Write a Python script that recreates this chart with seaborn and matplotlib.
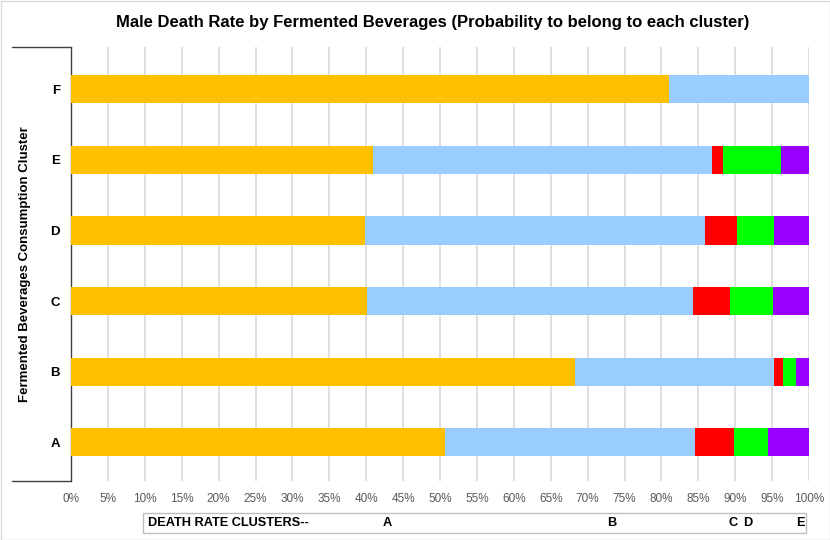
"""Male death rate by fermented beverages - stacked probability bars."""

import matplotlib.pyplot as plt
import matplotlib.ticker as mtick
import pandas as pd
import seaborn as sns
from matplotlib.patches import Rectangle

# consumption clusters, top to bottom
CLUSTERS = ["F", "E", "D", "C", "B", "A"]

# probability (%) to belong to each death rate cluster
RATE_A = [81.0, 40.9, 39.8, 40.1, 68.3, 50.7]
RATE_B = [19.0, 46.0, 46.1, 44.2, 26.9, 33.9]
RATE_C = [0.0, 1.5, 4.4, 5.0, 1.3, 5.2]
RATE_D = [0.0, 7.8, 4.9, 5.8, 1.7, 4.6]
RATE_E = [0.0, 3.8, 4.8, 4.9, 1.8, 5.6]

SERIES = [
    ("A", RATE_A, "#FFC000"),
    ("B", RATE_B, "#99CCFF"),
    ("C", RATE_C, "#FF0000"),
    ("D", RATE_D, "#00FF00"),
    ("E", RATE_E, "#9900FF"),
]

sns.set_theme(style="white")
plt.rcParams.update({
    "font.family": ["Liberation Sans", "DejaVu Sans"],
    "text.color": "black",
    "axes.labelcolor": "black",
    "ytick.color": "black",
})

df = pd.DataFrame({"cluster": CLUSTERS})
cum = [0.0] * len(CLUSTERS)
for name, vals, _ in SERIES:
    cum = [c + v for c, v in zip(cum, vals)]
    df[name] = cum

W, H = 830, 540
fig = plt.figure(figsize=(W / 100, H / 100), dpi=100)
fig.patch.set_facecolor("white")
x0, x1, y0, y1 = 71, 809, 47, 481
ax = fig.add_axes([x0 / W, 1 - y1 / H, (x1 - x0) / W, (y1 - y0) / H])

# draw cumulative totals from the widest down so each segment shows
for name, _, color in reversed(SERIES):
    sns.barplot(data=df, x=name, y="cluster", order=CLUSTERS, color=color,
                width=0.4, saturation=1, ax=ax, zorder=3, linewidth=0)

ax.set_xlim(0, 100)
ax.set_ylim(5.55, -0.6)
ax.set_xticks(range(0, 101, 5))
ax.xaxis.set_major_formatter(mtick.PercentFormatter(decimals=0))
ax.grid(axis="x", color="#D9D9D9", linewidth=1.2, zorder=0)
ax.tick_params(axis="x", length=0, pad=9, labelsize=8.5, labelcolor="#595959")
ax.tick_params(axis="y", length=0, pad=8, labelsize=9.5, labelcolor="black")
for lbl in ax.get_yticklabels():
    lbl.set_fontweight("bold")
ax.set_xlabel("")
ax.set_ylabel("Fermented Beverages Consumption Cluster", fontsize=9.5,
              fontweight="bold", labelpad=14)

for side in ["top", "right", "bottom"]:
    ax.spines[side].set_visible(False)
ax.spines["left"].set_color("#404040")
ax.spines["left"].set_linewidth(1)
# label box lines to the left of the axis
for yy in (0, 1):
    ax.plot([-59 / 738, 0], [yy, yy], transform=ax.transAxes, color="#404040",
            linewidth=1, clip_on=False)

fig.suptitle("Male Death Rate by Fermented Beverages (Probability to belong to each cluster)",
             x=433 / W, y=1 - 23 / H, va="center", fontsize=12, fontweight="bold")

# cluster legend strip under the axis
fig.patches.append(Rectangle((143 / W, 1 - 533 / H), (806 - 143) / W, 20 / H,
                             transform=fig.transFigure, fill=False,
                             edgecolor="#BFBFBF", linewidth=1))
ly = 1 - 523 / H
fig.text(148 / W, ly, "DEATH RATE CLUSTERS--", fontsize=9.2, fontweight="bold", va="center")
for txt, px in [("A", 387), ("B", 612), ("C", 733), ("D", 748), ("E", 800)]:
    fig.text(px / W, ly, txt, fontsize=9.2, fontweight="bold", va="center", ha="center")

fig.patches.append(Rectangle((0.5 / W, 0.5 / H), (W - 1) / W, (H - 1) / H,
                             transform=fig.transFigure, fill=False,
                             edgecolor="#D9D9D9", linewidth=1))

fig.savefig("out.png", dpi=100, facecolor="white")
